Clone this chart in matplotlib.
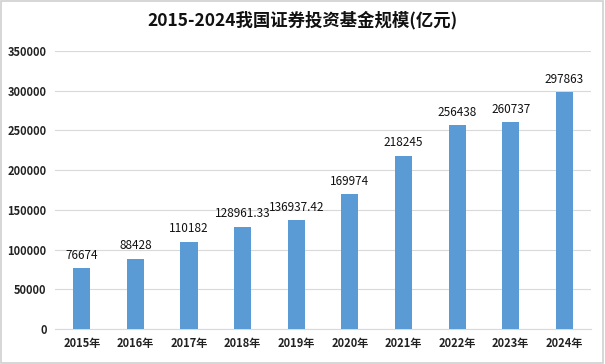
import matplotlib
matplotlib.use("Agg")
import matplotlib.pyplot as plt

plt.rcParams['font.family'] = ['Noto Sans CJK SC', 'DejaVu Sans']

years = ['2015年', '2016年', '2017年', '2018年', '2019年',
         '2020年', '2021年', '2022年', '2023年', '2024年']
values = [76674, 88428, 110182, 128961.33, 136937.42,
          169974, 218245, 256438, 260737, 297863]
value_labels = ['76674', '88428', '110182', '128961.33', '136937.42',
                '169974', '218245', '256438', '260737', '297863']
yticks = [0, 50000, 100000, 150000, 200000, 250000, 300000, 350000]


def main():
    fig = plt.figure(figsize=(6.05, 3.64), dpi=100)
    ax = fig.add_axes([0.091, 0.096, 0.886, 0.764])

    x = list(range(len(years)))
    ax.bar(x, values, width=0.32, color='#5B9BD5', zorder=3)
    for xi, v, lab in zip(x, values, value_labels):
        ax.text(xi, v + 8000, lab, ha='center', va='bottom', fontsize=8.5,
                fontweight='medium', color='#111111')

    ax.set_xlim(-0.5, len(years) - 0.5)
    ax.set_ylim(0, 350000)
    ax.set_yticks(yticks)
    ax.set_yticklabels([str(t) for t in yticks], fontsize=8,
                       fontweight='bold', color='#222222')
    ax.set_xticks(x)
    ax.set_xticklabels(years, fontsize=8, fontweight='bold', color='#222222')
    ax.tick_params(length=0, pad=6)
    ax.grid(axis='y', color='#D9D9D9', linewidth=0.8, zorder=0)
    for s in ['top', 'right', 'left']:
        ax.spines[s].set_visible(False)
    ax.spines['bottom'].set_color('#D9D9D9')

    fig.text(0.5, 0.945, '2015-2024我国证券投资基金规模(亿元)', ha='center',
             va='center', fontsize=12.5, fontweight='bold', color='#111111')

    border = plt.Rectangle((0.002, 0.003), 0.995, 0.993, transform=fig.transFigure,
                           fill=False, edgecolor='#D0D0D0', linewidth=1.2)
    fig.patches.append(border)

    fig.savefig('out.png', dpi=100)


if __name__ == "__main__":
    main()
